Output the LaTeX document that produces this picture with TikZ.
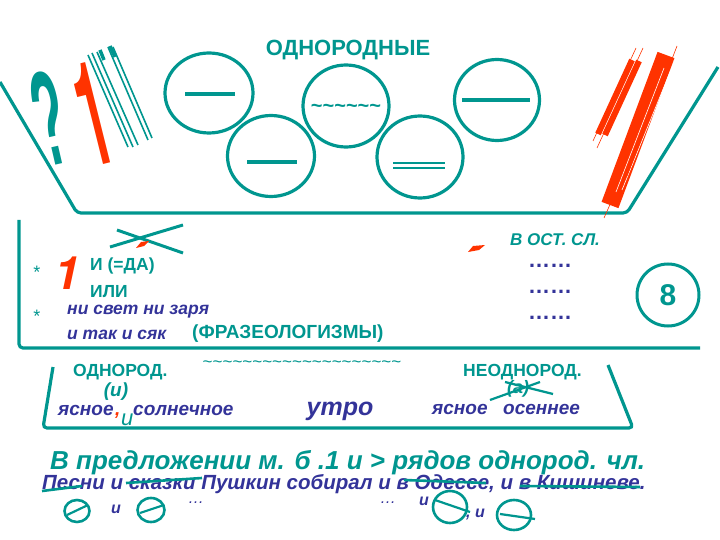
\documentclass[tikz,border=0pt]{standalone}
\usepackage{fontspec}
\setmainfont{Liberation Sans}
\newfontfamily\heros{TeX Gyre Heros}
\usepackage{graphicx}
\usetikzlibrary{shapes.geometric, calc, positioning}
\definecolor{sea}{RGB}{0,150,143}
\definecolor{ink}{RGB}{51,51,153}
\definecolor{flame}{RGB}{255,51,0}
\tikzstyle{frameline} = [draw=sea, line width=3.2pt, rounded corners=4pt]
\tikzstyle{oval} = [ellipse, draw=sea, line width=3.2pt, inner sep=0pt]
\tikzstyle{minioval} = [ellipse, draw=sea, line width=2.6pt, inner sep=0pt]
\tikzstyle{inrule} = [draw=sea, line width=3.2pt]
\tikzstyle{strike} = [draw=sea, line width=2.6pt]
\tikzstyle{stripe} = [draw=sea, line width=1.6pt]
\tikzstyle{tealhead} = [text=sea, inner sep=0pt, font=\bfseries\fontsize{17.5}{20}\selectfont]
\tikzstyle{inkphrase} = [text=ink, inner sep=0pt, font=\bfseries\itshape\fontsize{19}{22}\selectfont]

\begin{document}
\begin{tikzpicture}[x=1pt, y=-1pt]
	\useasboundingbox (0,0) rectangle (720,540);

	% set up frames
	\draw[frameline] (0,82) -- (77,213) -- (627,213) -- (718,67);
	\draw[frameline] (19,220) -- (19,348) -- (700,348);
	\draw[frameline] (53,367) -- (43,428) -- (633,428) -- (608,365);

	% set up top part
	\node (odn) [text=sea, font=\bfseries\fontsize{22}{24}\selectfont] at (348,50) {ОДНОРОДНЫЕ};

	\node (o1) [oval, minimum width=88pt, minimum height=80pt] at (209,93) {};
	\node (o2) [oval, minimum width=87pt, minimum height=81pt] at (271,156) {};
	\node (o3) [oval, minimum width=86pt, minimum height=82pt] at (346,106) {};
	\node (o4) [oval, minimum width=86pt, minimum height=82pt] at (420,157) {};
	\node (o5) [oval, minimum width=85pt, minimum height=81pt] at (497,100) {};

	\draw[inrule] ($(o1.center)+(-24,1)$) -- ($(o1.center)+(26,1)$);
	\draw[inrule] ($(o2.center)+(-24,6)$) -- ($(o2.center)+(26,6)$);
	\node (wave) [text=sea, inner sep=0pt, font=\bfseries\fontsize{20}{20}\selectfont] at ($(o3.center)+(0,2)$) {\detokenize{~~~~~~}};
	\draw[inrule, line width=2.4pt] ($(o4.center)+(-27,6)$) -- ($(o4.center)+(25,6)$);
	\draw[inrule, line width=2.4pt] ($(o4.center)+(-27,11)$) -- ($(o4.center)+(25,11)$);
	\draw[inrule] ($(o5.center)+(-35,0)$) -- ($(o5.center)+(33,0)$);

	\node (quest) [text=sea, inner sep=0pt] at (50,118) {\rotatebox{13}{\scalebox{0.95}[2.6]{\fontsize{52}{52}\selectfont\bfseries ?}}};
	\node (bigone) [text=flame, inner sep=0pt] at (93,114) {\rotatebox{14}{\scalebox{1}[2.8]{\heros\fontsize{52}{52}\selectfont\bfseries 1}}};

	\foreach \xa/\ya/\xb/\yb in {88/55/128/147, 92/53/133/147, 97/52/138/145, 108/47/148/140, 113/47/152/138}
		\draw[stripe] (\xa,\ya) -- (\xb,\yb);
	\draw[stripe, line width=3.5pt] (100,50) -- (104,60);
	\draw[stripe, line width=3.5pt] (110,46) -- (115,57);

	% red strokes on the right
	\draw[flame, line width=6pt] (632,60) -- (598,134);
	\draw[flame, line width=6pt] (639,61) -- (605,135);
	\draw[flame, line width=0.6pt] (636,48) -- (593,141);
	\draw[flame, line width=0.6pt] (643,48) -- (597,148);
	\draw[flame, line width=18pt] (666,55) -- (610,205);
	\draw[white, line width=0.6pt] (664,68) -- (616,192);
	\draw[white, line width=0.6pt] (670,72) -- (622,190);
	\draw[flame, line width=0.6pt] (677,46) -- (627,176);
	\draw[flame, line width=0.6pt] (612,200) -- (604,218);

	% set up middle box
	\node (star1) [text=sea, inner sep=0pt, font=\fontsize{18}{18}\selectfont] at (37,272) {*};
	\node (star2) [text=sea, inner sep=0pt, font=\fontsize{18}{18}\selectfont] at (37,316) {*};
	\node (midone) [text=flame, inner sep=0pt, font=\heros\bfseries\itshape\fontsize{46}{46}\selectfont] at (67,273) {1};
	\node (ida) [tealhead, anchor=base west] at (90,270) {И (=ДА)};
	\node (ili) [tealhead, anchor=base west] at (90,297) {ИЛИ};
	\node (svet) [inkphrase, anchor=base west, font=\bfseries\itshape\fontsize{17.5}{20}\selectfont] at (67,314) {ни свет ни заря};
	\node (syak) [inkphrase, anchor=base west, font=\bfseries\itshape\fontsize{17.5}{20}\selectfont] at (67,339) {и так и сяк};
	\node (fraz) [tealhead, anchor=base west, font=\bfseries\fontsize{19}{20}\selectfont] at (192,338) {(ФРАЗЕОЛОГИЗМЫ)};
	\node (ost) [tealhead, anchor=base west, font=\bfseries\itshape\fontsize{17}{18}\selectfont] at (510,245) {В ОСТ. СЛ.};
	\foreach \y/\n in {266/d1, 292/d2, 318/d3}
		\node (\n) [text=ink, inner sep=0pt, font=\bfseries\fontsize{22}{22}\selectfont] at (550,\y) {……};
	\node (eight) [circle, draw=sea, line width=3pt, minimum size=62pt, inner sep=0pt, text=sea, font=\bfseries\fontsize{30}{30}\selectfont] at (668,295) {8};

	\draw[strike, line width=3pt] (110,247) -- (183,225);
	\draw[strike, line width=3pt] (117,230) -- (183,253);
	\fill[flame] (136,248) -- (141,242) -- (149,241) -- (144,246) -- cycle;
	\fill[flame] (468,252) -- (473,246) -- (485,245) -- (479,250) -- cycle;

	% set up lower box
	\node (hom) [tealhead, anchor=base west] at (73,376) {ОДНОРОД.};
	\node (het) [tealhead, anchor=base west] at (463,376) {НЕОДНОРОД.};
	\node (tilde) [text=sea, inner sep=0pt, font=\fontsize{17}{17}\selectfont] at (302,364) {\detokenize{~~~~~~~~~~~~~~~~~~~~}};
	\node (iand) [text=sea, inner sep=0pt, font=\bfseries\itshape\fontsize{19}{20}\selectfont] at (116,392) {(и)};
	\node (aand) [text=sea, inner sep=0pt, font=\bfseries\itshape\fontsize{18}{20}\selectfont] at (518,389) {(а)};
	\draw[strike, line width=2.2pt] (490,400) -- (540,382);
	\draw[strike, line width=2.2pt] (505,382) -- (553,394);

	\node (w1) [inkphrase, anchor=base west] at (58,415) {ясное};
	\node (comma) [text=flame, inner sep=0pt, anchor=base west, font=\bfseries\itshape\fontsize{19}{22}\selectfont] at (115,415) {,};
	\node (w2) [inkphrase, anchor=base west] at (133,415) {солнечное};
	\node (w3) [inkphrase, anchor=base, font=\bfseries\itshape\fontsize{25}{28}\selectfont] at (340,415) {утро};
	\node (w4) [inkphrase, anchor=base west] at (432,414) {ясное};
	\node (w5) [inkphrase, anchor=base west] at (503,414) {осеннее};
	\node (small) [text=sea, inner sep=0pt, anchor=base west, font=\itshape\fontsize{22}{22}\selectfont] at (121,425) {и};

	% set up bottom lines
	\node (rule) [text=sea, inner sep=0pt, anchor=base west, font=\bfseries\itshape\fontsize{26}{28}\selectfont] at (50,469) {В предложении м. б .1 и > рядов однород. чл.};
	\node (ex) [inkphrase, anchor=base west, font=\bfseries\itshape\fontsize{20.5}{22}\selectfont] at (42,489) {Песни и сказки Пушкин собирал и в Одессе, и в Кишиневе.};

	\draw[strike] (42,491) -- (82,486);
	\draw[strike] (126,483) -- (202,478);
	\draw[strike] (404,480) -- (486,483);
	\draw[strike] (520,486) -- (640,487);

	\node (m1) [minioval, minimum width=25pt, minimum height=22pt] at (77,511) {};
	\node (m2) [minioval, minimum width=27pt, minimum height=24pt] at (151,510) {};
	\node (m3) [minioval, minimum width=34pt, minimum height=32pt] at (450,507) {};
	\node (m4) [minioval, minimum width=34pt, minimum height=30pt] at (514,515) {};
	\draw[strike, line width=2.2pt] ($(m1.center)+(-10,4)$) -- ($(m1.center)+(11,-6)$);
	\draw[strike, line width=2.2pt] ($(m2.center)+(-11,3)$) -- ($(m2.center)+(13,-5)$);
	\draw[strike, line width=2.2pt] ($(m3.center)+(-15,-7)$) -- ($(m3.center)+(20,5)$);
	\draw[strike, line width=2.2pt] ($(m4.center)+(-14,-1)$) -- ($(m4.center)+(21,4)$);

	\node (c1) [inkphrase, anchor=base west, font=\bfseries\itshape\fontsize{16}{16}\selectfont] at (111,513) {и};
	\node (c2) [inkphrase, anchor=base west, font=\itshape\fontsize{16}{16}\selectfont] at (188,503) {…};
	\node (c3) [inkphrase, anchor=base west, font=\itshape\fontsize{16}{16}\selectfont] at (380,503) {…};
	\node (c4) [inkphrase, anchor=base west, font=\bfseries\itshape\fontsize{16}{16}\selectfont] at (419,505) {и};
	\node (c5) [inkphrase, anchor=base west, font=\bfseries\itshape\fontsize{16}{16}\selectfont] at (466,517) {, и};

\end{tikzpicture}
\end{document}
